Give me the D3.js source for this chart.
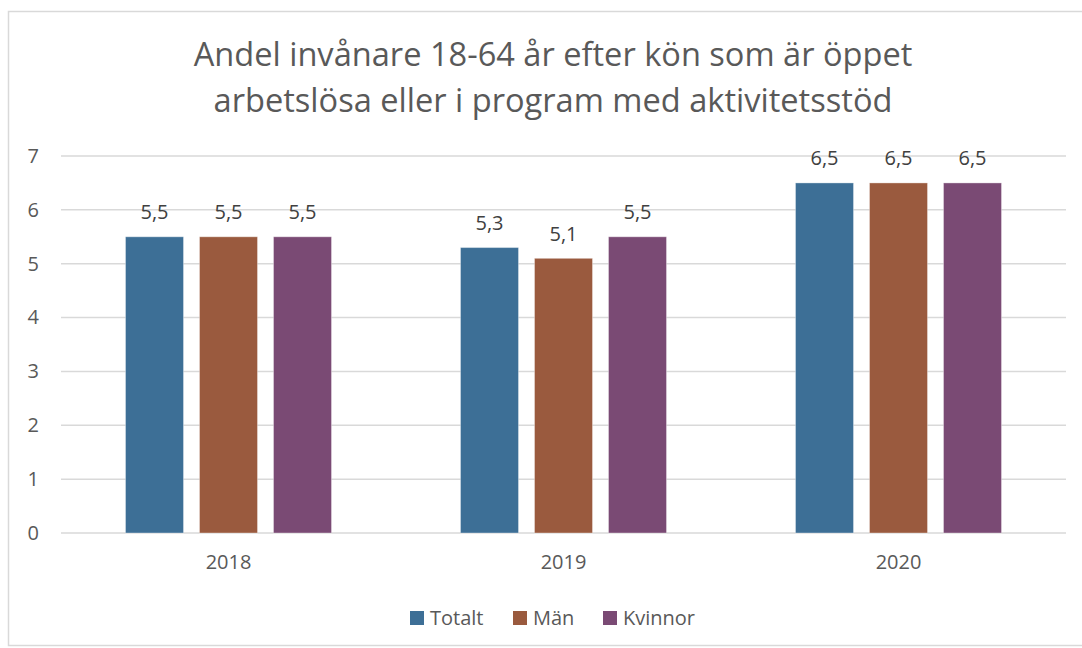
<!DOCTYPE html>
<html><head><meta charset="utf-8">
<script src="https://cdn.jsdelivr.net/npm/d3@7"></script>
<style>body{margin:0;background:#fff}svg{display:block;font-family:"Open Sans",sans-serif}</style>
</head><body><svg id="c" width="1082" height="648"></svg>
<script>
const categories = ["2018", "2019", "2020"];
const seriesNames = ["Totalt", "Män", "Kvinnor"];
const totalt = [5.5, 5.3, 6.5];
const man = [5.5, 5.1, 6.5];
const kvinnor = [5.5, 5.5, 6.5];
const yTicks = [0, 1, 2, 3, 4, 5, 6, 7];
const titleLines = ["Andel invånare 18-64 år efter kön som är öppet", "arbetslösa eller i program med aktivitetsstöd"];
const colors = ["#3d6f96", "#9a5a3e", "#7a4a74"];

(function () {
const seriesValues = [totalt, man, kvinnor];
const svg = d3.select("#c");
svg.append("rect").attr("x", 8.5).attr("y", 11.5).attr("width", 1082).attr("height", 634)
  .attr("fill", "#fff").attr("stroke", "#d9d9d9").attr("stroke-width", 1.5);

const pL = 61, pR = 1066, pT = 156, pB = 533;
const y = d3.scaleLinear().domain([0, 7]).range([pB, pT]);
const x0 = d3.scaleBand().domain(categories).range([pL, pR]).padding(0);
const gp = (x0.bandwidth() - 206) / 2;
const x1 = d3.scaleBand().domain(seriesNames).range([gp, x0.bandwidth() - gp]).paddingInner(16 / 74).paddingOuter(0);
const color = d3.scaleOrdinal().domain(seriesNames).range(colors);

svg.append("text").attr("x", 553).attr("text-anchor", "middle").attr("fill", "#595959")
  .attr("font-size", 32.6).selectAll("tspan").data(titleLines).join("tspan")
  .attr("x", 553).attr("y", (d, i) => 66 + i * 46).text(d => d);

svg.append("g").selectAll("line").data(yTicks).join("line")
  .attr("x1", pL).attr("x2", pR).attr("y1", d => y(d)).attr("y2", d => y(d))
  .attr("stroke", "#d9d9d9").attr("stroke-width", 1.5);

const yAxis = d3.axisLeft(y).tickValues(yTicks).tickFormat(d3.format("d")).tickSize(0).tickPadding(0);
const gy = svg.append("g").attr("transform", `translate(39,0)`).call(yAxis);
gy.select(".domain").remove();
gy.selectAll("text").attr("font-size", 20).attr("fill", "#595959").attr("font-family", "Open Sans");

const xAxis = d3.axisBottom(x0).tickSize(0).tickPadding(0);
const gx = svg.append("g").attr("transform", `translate(0,569)`).call(xAxis);
gx.select(".domain").remove();
gx.selectAll("text").attr("dy", 0).attr("y", 0).attr("font-size", 20).attr("fill", "#595959").attr("font-family", "Open Sans");

const data = categories.map((c, i) => ({ c, vals: seriesNames.map((s, j) => ({ s, v: seriesValues[j][i] })) }));
const groups = svg.append("g").selectAll("g").data(data).join("g")
  .attr("transform", d => `translate(${x0(d.c)},0)`);
groups.selectAll("rect").data(d => d.vals).join("rect")
  .attr("x", d => x1(d.s)).attr("width", x1.bandwidth())
  .attr("y", d => y(d.v)).attr("height", d => y(0) - y(d.v))
  .attr("fill", d => color(d.s)).attr("stroke", "#ffffff").attr("stroke-opacity", 0.35).attr("stroke-width", 1);
groups.selectAll("text").data(d => d.vals).join("text")
  .attr("x", d => x1(d.s) + x1.bandwidth() / 2).attr("y", d => y(d.v) - 17.5)
  .attr("text-anchor", "middle").attr("font-size", 20).attr("fill", "#404040")
  .text(d => String(d.v.toFixed(1)).replace(".", ","));

const legX = [410, 513, 603];
const leg = svg.append("g").selectAll("g").data(seriesNames).join("g")
  .attr("transform", (d, i) => `translate(${legX[i]},611)`);
leg.append("rect").attr("width", 14).attr("height", 14).attr("fill", d => color(d));
leg.append("text").attr("x", 20).attr("y", 14).attr("font-size", 20).attr("fill", "#595959").text(d => d);
})();
</script></body></html>
